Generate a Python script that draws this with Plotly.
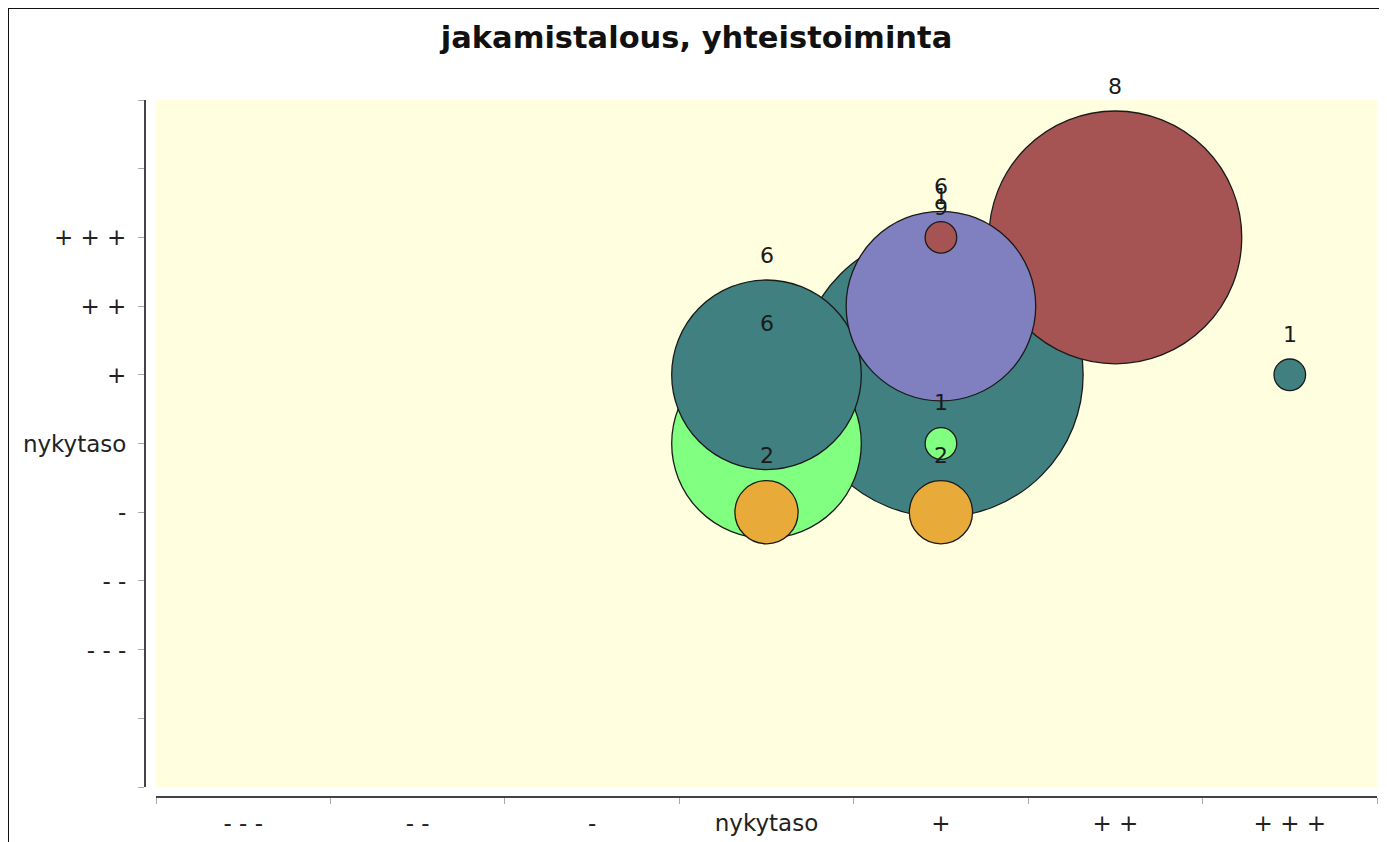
import plotly.graph_objects as go

# category labels (same scale on both axes)
levels = ['- - -', '- -', '-', 'nykytaso', '+', '+ +', '+ + +']

# bubbles: x category, y category, count
pt_x = ['nykytaso', '+', 'nykytaso', '+', 'nykytaso', '+', '+ + +', '+', '+', '+ +']
pt_y = ['-', '-', 'nykytaso', 'nykytaso', '+', '+', '+', '+ +', '+ + +', '+ + +']
pt_n = [2, 2, 6, 1, 6, 9, 1, 6, 1, 8]

# one colour per y level
level_color = {
    '-': '#E8AB3A',
    'nykytaso': '#80FF80',
    '+': '#408080',
    '+ +': '#8080C0',
    '+ + +': '#A65353',
}

# page body has an 8px margin, so the figure sits at (8, 8) in the window
OFF = 8
W, H = 1387 - OFF, 842 - OFF
L, R, T, B = 145 - OFF, W - (1377 - OFF), 100 - OFF, H - (797 - OFF)
px_per_unit = 31.6  # bubble diameter per count

# big bubbles first so the small ones stay visible
order = sorted(range(len(pt_n)), key=lambda i: -pt_n[i])
xs = [pt_x[i] for i in order]
ys = [levels.index(pt_y[i]) for i in order]
ns = [pt_n[i] for i in order]
cols = [level_color[pt_y[i]] for i in order]

fig = go.Figure()
fig.add_trace(go.Scatter(
    x=xs, y=ys,
    mode='markers',
    marker=dict(size=ns, sizemode='diameter', sizeref=1 / px_per_unit,
                color=cols, opacity=1,
                line=dict(width=1.3, color='#1a1a1a')),
    hoverinfo='skip',
    showlegend=False,
))

annotations = []
for x, y, n in zip(xs, ys, ns):
    annotations.append(dict(
        x=x, y=y, xref='x', yref='y', text=str(n), showarrow=False,
        yanchor='middle', yshift=n * px_per_unit / 2 + 25,
        font=dict(family='DejaVu Sans', size=22, color='#1a1a1a'),
    ))

pw = W - L - R
ph = H - T - B


# window pixel -> paper fraction
def px_x(v):
    return (v - OFF - L) / pw


def px_y(v):
    return (H - B - (v - OFF)) / ph


fig.update_layout(
    width=W, height=H,
    margin=dict(l=L, r=R, t=T, b=B, pad=0, autoexpand=False),
    paper_bgcolor='white',
    plot_bgcolor='#FFFFE0',
    title=dict(text='<b>jakamistalous, yhteistoiminta</b>',
               x=(696.5 - OFF) / W, xref='container', xanchor='center',
               y=1 - (37 - OFF) / H, yref='container', yanchor='middle',
               automargin=False,
               font=dict(family='DejaVu Sans', size=30.5, color='#111')),
    font=dict(family='DejaVu Sans', size=22, color='#222'),
    xaxis=dict(
        type='category', categoryorder='array', categoryarray=levels,
        range=[-0.5, 6.5], domain=[px_x(156), 1],
        anchor='free', position=0, automargin=False,
        tickson='boundaries', ticks='outside', ticklen=6, tickwidth=1,
        tickcolor='#aaaaaa', showline=True, linecolor='#444444', linewidth=2,
        ticklabelstandoff=5,
        showgrid=False, zeroline=False, fixedrange=True,
        tickfont=dict(size=23, color='#222'),
    ),
    yaxis=dict(
        range=[-2, 8], domain=[px_y(787), 1],
        anchor='free', position=0, automargin=False,
        tickmode='array', tickvals=list(range(-2, 9)),
        ticktext=['', ''] + levels + ['', ''],
        ticks='outside', ticklen=6, tickwidth=1, tickcolor='#aaaaaa',
        ticklabelstandoff=7,
        showline=True, linecolor='#444444', linewidth=2,
        showgrid=False, zeroline=False, fixedrange=True,
        tickfont=dict(size=23, color='#222'),
    ),
    annotations=annotations,
    shapes=[dict(type='rect', xref='paper', yref='paper',
                 x0=px_x(8), x1=px_x(1383), y0=px_y(860), y1=px_y(8),
                 line=dict(color='#111', width=2), layer='above')],
)

fig.write_html('out.html')
